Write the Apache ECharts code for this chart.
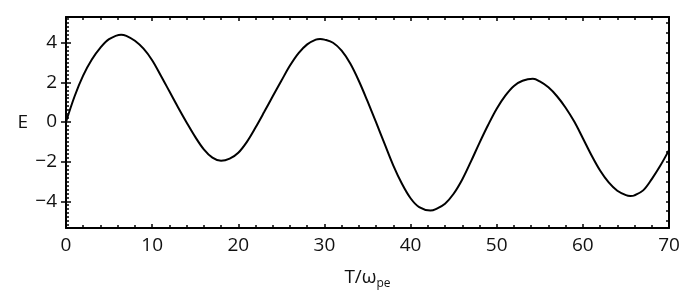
<!DOCTYPE html>
<html>
<head>
<meta charset="utf-8">
<script src="https://cdn.jsdelivr.net/npm/echarts@6/dist/echarts.min.js"></script>
<style>html,body{margin:0;padding:0;background:#fff}#c{width:689px;height:301px}</style>
</head>
<body>
<div id="c"></div>
<script>
const T = [0,1,2,3,4,5,6.4,7,8,9,10,11,12,13,14,15,16,17,18,19,20,21,22,23,24,25,26,27,28,29,29.5,30,31,32,33,34,35,36,37,38,39,40,41,42.3,43,44,45,46,47,48,49,50,51,52,53,54.2,55,56,57,58,59,60,61,62,63,64,65,65.5,66,67,68,69,70];
const E = [0,1.3,2.35,3.15,3.75,4.18,4.41,4.35,4.1,3.7,3.12,2.35,1.55,0.75,-0.02,-0.75,-1.38,-1.8,-1.96,-1.85,-1.55,-1.0,-0.28,0.5,1.3,2.08,2.85,3.48,3.92,4.16,4.19,4.16,4.0,3.6,2.95,2.07,1.05,-0.02,-1.12,-2.2,-3.12,-3.85,-4.3,-4.47,-4.38,-4.12,-3.62,-2.9,-2.0,-1.05,-0.15,0.67,1.33,1.82,2.08,2.18,2.05,1.75,1.3,0.72,0.02,-0.82,-1.68,-2.45,-3.05,-3.47,-3.69,-3.73,-3.7,-3.45,-2.88,-2.2,-1.42];
const yLabels = [-4,-2,0,2,4];
const xLabels = [0,10,20,30,40,50,60,70];

const YMIN = -5.35, YMAX = 5.3;
function steps(a, b, s){ const r=[]; for(let v=a; v<=b+1e-9; v+=s) r.push(Math.round(v*100)/100); return r; }
const font = '"Open Sans", sans-serif';
const black = '#000';
const lineStyle = {color: black, width: 2};

const chart = echarts.init(document.getElementById('c'));
chart.setOption({
  animation: false,
  backgroundColor: '#fff',
  grid: {left: 66, right: 20, top: 17, bottom: 73, containLabel: false},
  xAxis: [
    {type: 'value', position: 'bottom', min: 0, max: 70, interval: 10,
     axisLine: {show: true, onZero: false, lineStyle},
     axisTick: {show: true, inside: true, length: 4, lineStyle: {color: black, width: 1.5}},
     minorTick: {show: true, splitNumber: 5, length: 3, lineStyle: {color: black, width: 1.5}},
     splitLine: {show: false}, minorSplitLine: {show: false},
     axisLabel: {show: true, fontFamily: font, fontSize: 19, color: '#111', margin: 8,
       customValues: xLabels},
     name: '{a|T/ω}{s|pe}', nameLocation: 'middle', nameGap: 38,
     nameTextStyle: {rich: {
       a: {fontFamily: font, fontSize: 19, color: '#111', lineHeight: 24},
       s: {fontFamily: font, fontSize: 12, color: '#111', lineHeight: 24, verticalAlign: 'bottom', padding: [11,0,0,0]}
     }}},
    {type: 'value', position: 'top', min: 0, max: 70, interval: 10,
     axisLine: {show: true, onZero: false, lineStyle},
     axisTick: {show: true, inside: true, length: 4, lineStyle: {color: black, width: 1.5}},
     minorTick: {show: true, splitNumber: 5, length: 3, lineStyle: {color: black, width: 1.5}},
     splitLine: {show: false}, axisLabel: {show: false}}
  ],
  yAxis: [
    {type: 'value', position: 'left', min: YMIN, max: YMAX,
     axisLine: {show: true, onZero: false, lineStyle},
     axisTick: {show: true, inside: true, length: 5, customValues: yLabels, lineStyle: {color: black, width: 1.5}},
     splitLine: {show: false},
     axisLabel: {show: true, fontFamily: font, fontSize: 19, color: '#111', margin: 9,
       customValues: yLabels, formatter: v => String(v).replace('-', '\u2212')},
     name: 'E', nameLocation: 'middle', nameRotate: 0, nameGap: 38,
     nameTextStyle: {fontFamily: font, fontSize: 19, color: '#111'}},
    {type: 'value', position: 'left', min: YMIN, max: YMAX,
     axisLine: {show: false},
     axisTick: {show: true, inside: true, length: 3, customValues: steps(-5.2, 5.2, 0.2), lineStyle: {color: black, width: 1.5}},
     splitLine: {show: false}, axisLabel: {show: false}},
    {type: 'value', position: 'right', min: YMIN, max: YMAX,
     axisLine: {show: true, onZero: false, lineStyle},
     axisTick: {show: true, inside: true, length: 3, customValues: steps(-5, 5, 0.5), lineStyle: {color: black, width: 1.5}},
     splitLine: {show: false}, axisLabel: {show: false}},
    {type: 'value', position: 'right', min: YMIN, max: YMAX,
     axisLine: {show: false},
     axisTick: {show: true, inside: true, length: 5, customValues: yLabels, lineStyle: {color: black, width: 1.5}},
     splitLine: {show: false}, axisLabel: {show: false}}
  ],
  series: [{
    type: 'line', xAxisIndex: 0, yAxisIndex: 0,
    data: T.map((t, i) => [t, E[i]]),
    smooth: 0.35, showSymbol: false, symbol: 'none',
    lineStyle: {color: black, width: 2}
  }]
});
</script>
</body>
</html>
